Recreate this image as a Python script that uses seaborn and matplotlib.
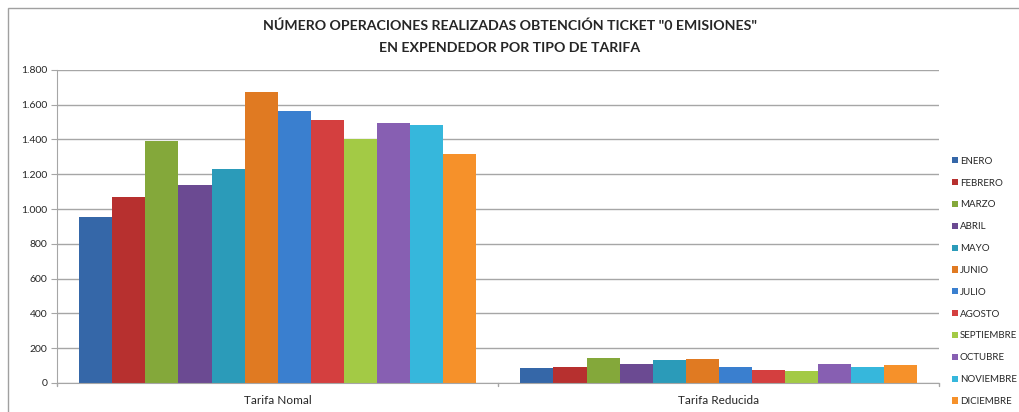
import pandas as pd
import matplotlib.pyplot as plt
import seaborn as sns
from matplotlib.patches import Rectangle
from matplotlib.ticker import FuncFormatter

# data
meses = ["ENERO", "FEBRERO", "MARZO", "ABRIL", "MAYO", "JUNIO", "JULIO",
         "AGOSTO", "SEPTIEMBRE", "OCTUBRE", "NOVIEMBRE", "DICIEMBRE"]
tarifas = ["Tarifa Nomal", "Tarifa Reducida"]
tarifa_normal = [954, 1069, 1394, 1137, 1229, 1672, 1562, 1510, 1404, 1492, 1484, 1317]
tarifa_reducida = [88, 94, 145, 112, 133, 136, 94, 72, 68, 108, 94, 101]

colores = ["#3567a8", "#b7302f", "#84a83a", "#6b4a92", "#2b9bb9", "#e07a22",
           "#3a7fcf", "#d43f3f", "#a3ca45", "#875fb2", "#36b7dc", "#f6912a"]

df = pd.DataFrame({
    "tarifa": [tarifas[0]] * 12 + [tarifas[1]] * 12,
    "mes": meses * 2,
    "valor": tarifa_normal + tarifa_reducida,
})

sns.set_style("white")
plt.rcParams["font.family"] = ["Lato", "DejaVu Sans"]

fig = plt.figure(figsize=(10.2, 4.12), dpi=100)
ax = fig.add_axes([0.056, 0.0704, 0.865, 0.76])

sns.barplot(data=df, x="tarifa", y="valor", hue="mes", hue_order=meses,
            palette=colores, width=0.9, gap=0, ax=ax, edgecolor="none",
            saturation=1)

ax.set_ylim(0, 1800)
ax.set_xlim(-0.5, 1.5)
ax.set_yticks(range(0, 1801, 200))
ax.yaxis.set_major_formatter(FuncFormatter(lambda v, p: f"{int(v):,}".replace(",", ".")))
ax.grid(axis="y", color="#a6a6a6", linewidth=1)
ax.set_axisbelow(True)
ax.set_xlabel("")
ax.set_ylabel("")

for s in ["top", "right"]:
    ax.spines[s].set_visible(False)
ax.spines["left"].set_color("#a6a6a6")
ax.spines["bottom"].set_color("#a6a6a6")
ax.tick_params(axis="y", length=4, color="#a6a6a6", labelsize=7.5, pad=3, left=True)
ax.tick_params(axis="x", length=0, labelsize=8.5, pad=9)
for xb in [-0.5, 0.5, 1.5]:
    ax.plot([xb, xb], [0, -20], color="#a6a6a6", lw=1, clip_on=False)

leg = ax.legend(loc="upper left", bbox_to_anchor=(1.01, 0.735), frameon=False,
                fontsize=7, handlelength=0.6, handleheight=0.6,
                handletextpad=0.2, labelspacing=1.32, borderaxespad=0)

fig.text(0.5, 0.937, 'NÚMERO OPERACIONES REALIZADAS OBTENCIÓN TICKET "0 EMISIONES"',
         ha="center", va="center", fontsize=10.2, fontweight="bold")
fig.text(0.5, 0.884, "EN EXPENDEDOR POR TIPO DE TARIFA",
         ha="center", va="center", fontsize=10.2, fontweight="bold")

fig.patches.append(Rectangle((0.008, -0.01), 1.0, 0.99, transform=fig.transFigure,
                             fill=False, edgecolor="#a0a0a0", lw=1))

fig.savefig("out.png", dpi=100)
